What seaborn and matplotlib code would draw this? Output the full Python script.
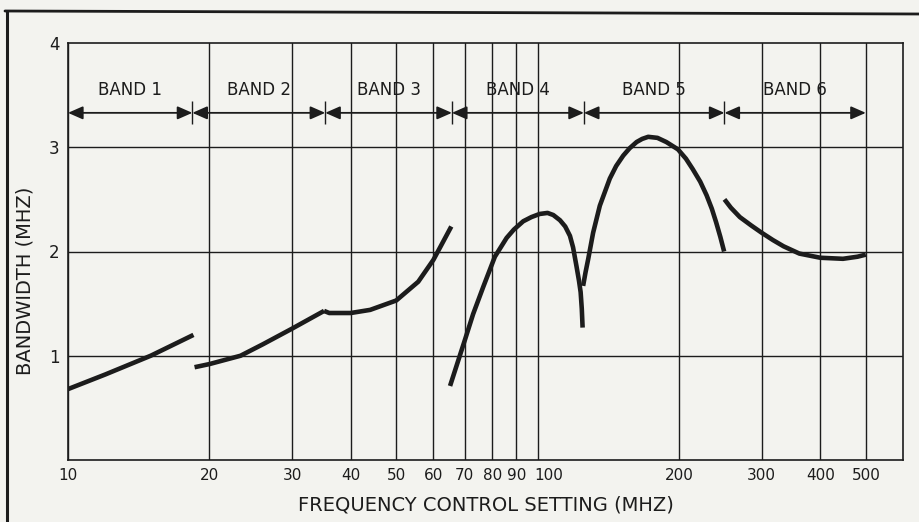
import matplotlib
matplotlib.use("Agg")
import matplotlib.pyplot as plt
from matplotlib.lines import Line2D
from matplotlib.patches import ArrowStyle
from matplotlib.transforms import ScaledTranslation
import numpy as np
import pandas as pd
import seaborn as sns

# ---- data ----
band1_freq = [10, 12, 15, 18.5]
band1_bw = [0.68, 0.82, 1.00, 1.20]
band2_freq = [18.6, 20, 23.3, 26, 30, 35.1]
band2_bw = [0.89, 0.92, 1.00, 1.11, 1.26, 1.43]
band3_freq = [35.1, 36, 40, 44, 50, 55.7, 60, 65.5]
band3_bw = [1.43, 1.41, 1.41, 1.44, 1.53, 1.71, 1.92, 2.24]
band4_freq = [65.1, 67.5, 70.0, 72.9, 76.6, 81.1, 85.9, 89, 93.2, 97, 101, 105, 108,
              111.6, 114.5, 117.2, 119, 121, 122.5, 123.5, 124.2, 124.7]
band4_bw = [0.71, 0.93, 1.15, 1.40, 1.66, 1.95, 2.13, 2.21, 2.29, 2.33, 2.36, 2.37, 2.35,
            2.30, 2.24, 2.15, 2.04, 1.86, 1.72, 1.61, 1.45, 1.27]
band5_freq = [125, 126.5, 128.2, 131.3, 135.7, 142.5, 147, 152.2, 157, 162.5, 167, 172, 180,
              188, 199, 207, 214, 222, 229, 235, 240, 245, 249.6]
band5_bw = [1.67, 1.80, 1.93, 2.18, 2.44, 2.70, 2.82, 2.92, 2.99, 3.05, 3.08, 3.10, 3.09,
            3.05, 2.98, 2.89, 2.79, 2.67, 2.54, 2.41, 2.28, 2.14, 2.00]
band6_freq = [250, 258, 269.6, 285, 300, 317, 334, 361, 400, 447, 480, 500]
band6_bw = [2.50, 2.42, 2.33, 2.25, 2.18, 2.11, 2.05, 1.98, 1.94, 1.93, 1.95, 1.97]

band_names = ["BAND 1", "BAND 2", "BAND 3", "BAND 4", "BAND 5", "BAND 6"]
band_edges = [10, 18.4, 35.3, 65.7, 125.5, 250, 500]

x_ticks = [10, 20, 30, 40, 50, 60, 70, 80, 90, 100, 200, 300, 400, 500]
x_ticklabels = ["10", "20", "30", "40", "50", "60", "70", "80", "90", "100", "200", "300", "400", "500"]
y_ticks = [1, 2, 3, 4]
y_ticklabels = ["1", "2", "3", "4"]
band_arrow_level = 3.33

# ---- build long table ----
series = [(band1_freq, band1_bw), (band2_freq, band2_bw), (band3_freq, band3_bw),
          (band4_freq, band4_bw), (band5_freq, band5_bw), (band6_freq, band6_bw)]
rows = []
for name, (f, b) in zip(band_names, series):
    for fi, bi in zip(f, b):
        rows.append({"band": name, "freq": fi, "bw": bi})
df = pd.DataFrame(rows)

BG = "#f3f3ef"
INK = "#1c1c1c"

sns.set_theme(style="white")
plt.rcParams["font.family"] = ["DejaVu Sans"]

fig = plt.figure(figsize=(9.2, 5.22), dpi=100, facecolor=BG)
ax = fig.add_axes([68 / 920, 62 / 522, 835 / 920, 417 / 522])
ax.set_facecolor(BG)

ax.set_xscale("log")
ax.set_xlim(10, 600)
ax.set_ylim(0, 4)

# grid
for xv in x_ticks:
    ax.axvline(xv, color=INK, lw=1.0, zorder=1)
for yv in [1, 2, 3]:
    ax.axhline(yv, color=INK, lw=1.0, zorder=1)

sns.lineplot(data=df, x="freq", y="bw", units="band", estimator=None, sort=False,
             color=INK, lw=3.3, ax=ax, zorder=3, solid_capstyle="butt", solid_joinstyle="round")

# band arrows
style = ArrowStyle("<|-|>", head_length=0.75, head_width=0.33)
for i, name in enumerate(band_names):
    x0, x1 = band_edges[i], band_edges[i + 1]
    ax.annotate("", xy=(x1, band_arrow_level), xytext=(x0, band_arrow_level),
                arrowprops=dict(arrowstyle=style, color=INK, lw=1.3,
                                shrinkA=0, shrinkB=0, mutation_scale=12),
                zorder=4)
    xc = np.sqrt(x0 * x1)
    ax.text(xc, band_arrow_level + 0.13, name, ha="center", va="bottom",
            fontsize=12, color=INK, zorder=5)
ax.vlines(band_edges[1:-1], band_arrow_level - 0.11, band_arrow_level + 0.11,
          color=INK, lw=1.0, zorder=4)

# ticks
ax.set_xticks(x_ticks)
ax.set_xticklabels(x_ticklabels, fontsize=11, color=INK)
ax.xaxis.set_minor_locator(matplotlib.ticker.NullLocator())
ax.set_yticks(y_ticks)
ax.set_yticklabels(y_ticklabels, fontsize=12, color=INK)
ax.tick_params(axis="both", length=0, pad=6)

# in the reference the "100" label sits just right of its grid line
for lab in ax.get_xticklabels():
    if lab.get_text() == "100":
        lab.set_transform(lab.get_transform() + ScaledTranslation(11 / 100, 0, fig.dpi_scale_trans))
    elif lab.get_text() in ("80", "90"):
        lab.set_transform(lab.get_transform() + ScaledTranslation(1 / 100, 0, fig.dpi_scale_trans))

for s in ax.spines.values():
    s.set_visible(True)
    s.set_color(INK)
    s.set_linewidth(1.2)

ax.set_xlabel("FREQUENCY CONTROL SETTING (MHZ)", fontsize=14, color=INK, labelpad=9)
ax.set_ylabel("BANDWIDTH (MHZ)", fontsize=14, color=INK)
ax.yaxis.set_label_coords(-0.04, 0.43)

# outer frame of the page
fig.add_artist(Line2D([5 / 920, 1.0], [1 - 11 / 522, 1 - 14 / 522], transform=fig.transFigure,
                      color=INK, lw=2.0))
fig.add_artist(Line2D([7 / 920, 7 / 920], [1 - 11 / 522, 0.0], transform=fig.transFigure,
                      color=INK, lw=2.2))

fig.savefig("out.png", dpi=100, facecolor=BG)
